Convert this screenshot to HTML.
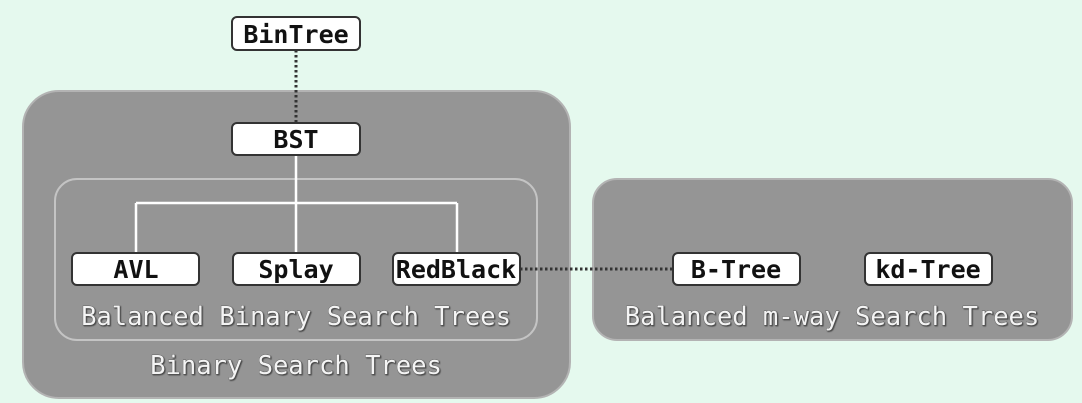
<!DOCTYPE html>
<html><head><style>
html,body{margin:0;padding:0;background:#e5f9ee;}
svg{display:block}
.n{font-family:"DejaVu Sans Mono","Liberation Mono",monospace;font-weight:bold;font-size:25px;fill:#111;text-anchor:middle}
.l{font-family:"DejaVu Sans Mono","Liberation Mono",monospace;font-size:25.5px;fill:#f4f4f4;text-anchor:middle;stroke:#555;stroke-width:0.7;paint-order:stroke}
</style></head><body>
<svg width="1082" height="403" viewBox="0 0 1082 403">
<defs><filter id="s"><feDropShadow dx="1" dy="1" stdDeviation="0.5" flood-color="#333" flood-opacity="0.8"/></filter></defs>
<rect x="23" y="91" width="547" height="307" rx="36" fill="#959595" stroke="#b3b3b3" stroke-width="2"/>
<rect x="55" y="179" width="482" height="161" rx="22" fill="none" stroke="#c4c4c4" stroke-width="2"/>
<rect x="593" y="179" width="479" height="161" rx="24" fill="#959595" stroke="#b3b3b3" stroke-width="2"/>
<path d="M296 155V203M136 203H457M136 203V253M296 203V253M457 203V253" stroke="#fff" stroke-width="2.5" fill="none"/>
<path d="M296 50V123M520 269H673" stroke="#333" stroke-width="3" stroke-dasharray="2.5 2.5" fill="none"/>
<g fill="#fff" stroke="#333" stroke-width="2">
<rect x="232" y="17" width="128" height="33" rx="5"/>
<rect x="232" y="123" width="128" height="32" rx="5"/>
<rect x="72" y="253" width="127" height="32" rx="5"/>
<rect x="233" y="253" width="127" height="32" rx="5"/>
<rect x="393" y="253" width="127" height="32" rx="5"/>
<rect x="673" y="253" width="127" height="32" rx="5"/>
<rect x="865" y="253" width="127" height="32" rx="5"/>
</g>
<text class="n" x="296" y="43">BinTree</text>
<text class="n" x="296" y="148">BST</text>
<text class="n" x="136" y="278">AVL</text>
<text class="n" x="296" y="278">Splay</text>
<text class="n" x="456" y="278">RedBlack</text>
<text class="n" x="736" y="278">B-Tree</text>
<text class="n" x="928" y="278">kd-Tree</text>
<g filter="url(#s)">
<text class="l" x="296" y="325">Balanced Binary Search Trees</text>
<text class="l" x="296" y="374">Binary Search Trees</text>
<text class="l" x="832" y="325">Balanced m-way Search Trees</text>
</g>
</svg>
</body></html>
